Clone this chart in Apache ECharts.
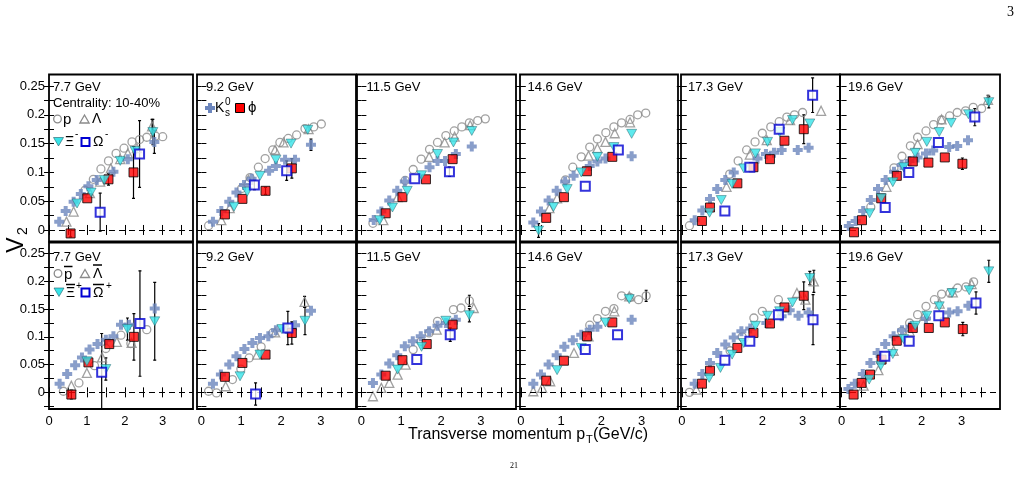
<!DOCTYPE html>
<html><head><meta charset="utf-8">
<script src="https://cdn.jsdelivr.net/npm/echarts@6/dist/echarts.min.js"></script>
<style>html,body{margin:0;padding:0;background:#fff}#c{width:1022px;height:478px}</style>
</head><body><div id="c"></div><script>
// ---------- tick labels / categories ----------
const energies = ['7.7 GeV','9.2 GeV','11.5 GeV','14.6 GeV','17.3 GeV','19.6 GeV'];
const xTicks = [0,1,2,3];
const xMinorTicks = [0,0.5,1,1.5,2,2.5,3,3.5];
const yTicks = [0,0.05,0.1,0.15,0.2,0.25];
const yMinorTicks = [-0.025,0,0.025,0.05,0.075,0.1,0.125,0.15,0.175,0.2,0.225,0.25];

// ---------- data: [pT, v2, (stat error)] ----------
// top row: particles
const t77_p   = [[0.95,0.069],[1.17,0.088],[1.37,0.106],[1.57,0.12],[1.77,0.133],[1.98,0.142],[2.19,0.153],[2.39,0.157],[2.58,0.161],[2.81,0.163],[3.0,0.162]];
const t77_L   = [[0.46,0.0145],[0.65,0.032],[1.08,0.064],[1.35,0.084],[1.63,0.107],[1.88,0.123],[2.08,0.133],[2.32,0.142],[2.72,0.18,0.012]];
const t77_Xi  = [[0.74,0.046],[1.11,0.065],[1.46,0.087],[1.88,0.12],[2.27,0.137],[2.74,0.17,0.022]];
const t77_Om  = [[1.35,0.031,0.033],[2.39,0.132,0.058]];
const t77_K   = [[0.27,0.0145],[0.44,0.033],[0.65,0.049],[0.84,0.0625],[1.04,0.076],[1.26,0.087],[1.70,0.101],[2.08,0.123],[2.78,0.153,0.02]];
const t77_phi = [[0.57,-0.006,0.006],[1.01,0.055],[1.57,0.088,0.01],[2.23,0.10,0.045]];

const t92_p   = [[0.18,0.0075],[1.01,0.072],[1.22,0.091],[1.43,0.109],[1.6,0.124],[1.79,0.139],[1.97,0.152],[2.18,0.159],[2.39,0.165],[2.6,0.176],[2.82,0.179],[3.01,0.184]];
const t92_L   = [[0.5,0.017],[0.71,0.038],[1.18,0.087],[1.85,0.139],[2.06,0.152],[2.69,0.175]];
const t92_Xi  = [[0.82,0.0405],[1.15,0.0665],[1.47,0.094],[1.87,0.122],[2.25,0.15],[2.67,0.174]];
const t92_Om  = [[1.33,0.078,0.008],[2.14,0.103,0.017]];
const t92_K   = [[0.29,0.0145],[0.5,0.033],[0.7,0.049],[0.88,0.065],[1.07,0.078],[1.26,0.089],[1.7,0.103],[1.87,0.111],[2.1,0.122],[2.35,0.122],[2.75,0.148,0.01]];
const t92_phi = [[0.59,0.027],[1.03,0.054],[1.61,0.068,0.006],[2.27,0.107,0.017]];

const t115_p   = [[0.29,0.0116],[1.1,0.086],[1.3,0.105],[1.5,0.123],[1.71,0.14],[1.91,0.152],[2.12,0.164],[2.33,0.172],[2.52,0.179],[2.71,0.186],[2.92,0.19],[3.11,0.193]];
const t115_L   = [[0.55,0.017],[0.91,0.057],[1.7,0.127],[2.09,0.152],[2.34,0.162],[2.73,0.182]];
const t115_Xi  = [[0.46,0.017],[0.78,0.039],[1.15,0.068],[1.51,0.095],[1.91,0.132],[2.31,0.152],[2.77,0.172]];
const t115_Om  = [[1.34,0.089],[2.21,0.101,0.008]];
const t115_K   = [[0.31,0.0175],[0.5,0.032],[0.7,0.051],[0.9,0.068],[1.09,0.084],[1.71,0.109],[1.91,0.12],[2.1,0.12],[2.37,0.132],[2.77,0.145]];
const t115_phi = [[0.61,0.029],[1.03,0.057],[1.62,0.088],[2.29,0.123]];

const t146_p   = [[1.11,0.087],[1.29,0.109],[1.5,0.127],[1.71,0.144],[1.9,0.158],[2.11,0.169],[2.31,0.179],[2.5,0.186],[2.71,0.192],[2.9,0.2],[3.1,0.203]];
const t146_L   = [[0.71,0.038],[0.9,0.055],[1.68,0.129],[1.9,0.142],[2.1,0.153],[2.33,0.168],[2.71,0.187]];
const t146_Xi  = [[0.44,-0.001,0.012],[0.81,0.04],[1.15,0.071],[1.5,0.1],[1.9,0.127],[2.31,0.144],[2.75,0.167]];
const t146_Om  = [[1.6,0.076],[2.42,0.139]];
const t146_K   = [[0.31,0.013],[0.5,0.032],[0.69,0.051],[0.89,0.068],[1.1,0.084],[1.31,0.094],[1.71,0.111],[1.9,0.119],[2.1,0.124],[2.75,0.128]];
const t146_phi = [[0.63,0.021],[1.07,0.057],[1.64,0.102],[2.27,0.127]];

const t173_p   = [[0.19,0.0075],[1.19,0.097],[1.4,0.12],[1.61,0.139],[1.82,0.153],[2.0,0.168],[2.21,0.179],[2.42,0.188],[2.61,0.196],[2.8,0.2],[3.0,0.204]];
const t173_L   = [[1.11,0.075],[1.69,0.131],[2.11,0.156],[2.69,0.191],[3.46,0.207]];
const t173_Xi  = [[0.69,0.03],[0.98,0.052],[1.25,0.08],[1.54,0.107],[1.83,0.133],[2.13,0.153],[2.43,0.17],[2.75,0.191],[3.18,0.185]];
const t173_Om  = [[1.07,0.033],[1.69,0.109],[2.42,0.175],[3.25,0.234,0.03]];
const t173_K   = [[0.32,0.017],[0.51,0.034],[0.7,0.054],[0.88,0.071],[1.08,0.087],[1.29,0.1],[1.88,0.124],[2.09,0.132],[2.29,0.134],[2.48,0.139],[2.88,0.139],[3.15,0.143]];
const t173_phi = [[0.5,0.0156],[0.7,0.039],[1.38,0.081],[1.78,0.109],[2.19,0.123],[2.55,0.155],[3.03,0.175,0.025]];

const t196_p   = [[0.73,0.04],[1.31,0.108],[1.51,0.128],[1.72,0.146],[1.9,0.161],[2.11,0.172],[2.3,0.183],[2.5,0.191],[2.7,0.198],[2.89,0.204],[3.1,0.207],[3.29,0.213],[3.5,0.211]];
const t196_L   = [[1.12,0.075],[1.9,0.149],[2.5,0.192],[3.66,0.226,0.008]];
const t196_Xi  = [[0.7,0.029],[0.99,0.055],[1.28,0.083],[1.55,0.109],[1.84,0.134],[2.13,0.153],[2.44,0.17],[2.74,0.186],[3.17,0.201],[3.68,0.222,0.01]];
const t196_Om  = [[1.09,0.039],[1.68,0.1],[2.42,0.152],[3.33,0.196,0.015]];
const t196_K   = [[0.18,0.007],[0.35,0.0156],[0.54,0.033],[0.73,0.052],[0.91,0.071],[1.1,0.087],[1.31,0.101],[1.5,0.113],[1.7,0.12],[1.9,0.126],[2.11,0.133],[2.29,0.138],[2.69,0.144],[2.89,0.146],[3.16,0.156]];
const t196_phi = [[0.31,-0.004],[0.51,0.017],[0.99,0.055],[1.38,0.094],[1.78,0.119],[2.17,0.117],[2.58,0.126],[3.02,0.115,0.01]];

// bottom row: anti-particles
const b77_p   = [[0.38,0.002],[0.79,0.017],[1.2,0.048],[1.5,0.079],[1.9,0.103],[2.16,0.088],[2.58,0.113]];
const b77_L   = [[0.59,0.012],[1.0,0.035],[1.4,0.063],[1.79,0.091],[2.18,0.089]];
const b77_Xi  = [[1.0,0.056],[1.5,0.042,0.02],[2.07,0.114,0.02],[2.79,0.128,0.07]];
const b77_Om  = [[1.39,0.036,0.07],[2.4,0.124,0.095]];
const b77_K   = [[0.28,0.0156],[0.48,0.033],[0.69,0.049],[0.87,0.063],[1.07,0.077],[1.28,0.087],[1.5,0.095],[1.7,0.101],[1.9,0.122],[2.11,0.122],[2.79,0.151]];
const b77_phi = [[0.59,-0.004,0.008],[1.04,0.054],[1.59,0.087],[2.24,0.1,0.042]];

const b92_p   = [[0.18,0.002],[0.38,-0.001],[0.78,0.023],[0.99,0.042],[1.2,0.062],[1.5,0.082],[1.79,0.107]];
const b92_L   = [[0.61,0.011],[1.4,0.068],[1.85,0.108],[2.59,0.163,0.01]];
const b92_Xi  = [[0.97,0.029],[1.47,0.068],[2.02,0.114],[2.6,0.129,0.025]];
const b92_Om  = [[1.36,-0.003,0.02],[2.17,0.116,0.03]];
const b92_K   = [[0.29,0.0156],[0.49,0.032],[0.7,0.05],[0.88,0.065],[1.08,0.078],[1.28,0.089],[1.47,0.098],[1.68,0.101],[1.87,0.112],[2.14,0.114],[2.35,0.121],[2.75,0.147]];
const b92_phi = [[0.59,0.028],[1.03,0.053],[1.61,0.068],[2.27,0.107,0.02]];

const b115_p   = [[1.3,0.077],[1.5,0.092],[1.7,0.107],[1.91,0.128],[2.31,0.149],[2.5,0.152],[2.71,0.165,0.01]];
const b115_L   = [[0.29,-0.007],[0.5,0.008],[0.7,0.017],[0.91,0.032],[1.11,0.05],[1.89,0.113],[2.82,0.152]];
const b115_Xi  = [[0.91,0.041],[1.51,0.082],[2.12,0.129],[2.71,0.139,0.012]];
const b115_Om  = [[1.39,0.059],[2.23,0.104,0.012]];
const b115_K   = [[0.29,0.017],[0.5,0.032],[0.7,0.052],[0.9,0.067],[1.09,0.083],[1.29,0.092],[1.49,0.101],[1.7,0.11],[1.91,0.12],[2.12,0.125],[2.37,0.131]];
const b115_phi = [[0.61,0.03],[1.03,0.058],[1.64,0.087],[2.29,0.122]];

const b146_p   = [[1.71,0.121],[1.9,0.133],[2.1,0.146],[2.31,0.151],[2.5,0.174],[2.71,0.171],[2.92,0.167],[3.11,0.174,0.01]];
const b146_L   = [[0.31,0.002],[0.53,0.008],[0.73,0.02],[1.32,0.071],[1.68,0.101],[2.32,0.146],[2.69,0.173]];
const b146_Xi  = [[0.9,0.04],[1.5,0.08],[2.1,0.126],[2.69,0.168]];
const b146_Om  = [[1.6,0.077],[2.4,0.104]];
const b146_K   = [[0.31,0.0156],[0.5,0.032],[0.69,0.05],[0.89,0.067],[1.08,0.082],[1.29,0.094],[1.5,0.104],[1.71,0.113],[1.9,0.118],[2.75,0.131]];
const b146_phi = [[0.63,0.021],[1.07,0.057],[1.64,0.101],[2.27,0.126]];

const b173_p   = [[0.19,0],[1.2,0.075],[1.5,0.1],[1.79,0.134],[2.0,0.146],[2.4,0.167]];
const b173_L   = [[0.36,0.005],[2.86,0.179],[3.07,0.167],[3.28,0.2,0.02]];
const b173_Xi  = [[0.68,0.026],[0.96,0.044],[1.25,0.068],[1.54,0.089],[1.83,0.12],[2.13,0.138],[2.43,0.146],[2.75,0.162],[3.18,0.206,0.012]];
const b173_Om  = [[1.07,0.058],[1.69,0.092],[2.4,0.14],[3.26,0.131,0.045]];
const b173_K   = [[0.32,0.0156],[0.51,0.033],[0.7,0.053],[0.88,0.071],[1.08,0.086],[1.29,0.099],[1.48,0.11],[1.7,0.115],[2.1,0.125],[2.48,0.137],[2.68,0.148],[2.9,0.138],[3.15,0.144]];
const b173_phi = [[0.5,0.0156],[0.7,0.039],[1.38,0.08],[1.78,0.107],[2.19,0.124],[2.55,0.153],[3.03,0.174,0.025]];

const b196_p   = [[1.5,0.11],[1.7,0.125],[1.9,0.14],[2.11,0.155],[2.32,0.167],[2.5,0.177],[2.71,0.179],[2.9,0.188],[3.11,0.19],[3.3,0.199]];
const b196_L   = [[0.55,0.012],[0.92,0.04],[1.3,0.075],[1.7,0.11],[2.07,0.138],[2.45,0.16],[2.78,0.18],[3.25,0.195]];
const b196_Xi  = [[0.69,0.023],[0.98,0.048],[1.28,0.069],[1.55,0.096],[1.84,0.12],[2.13,0.138],[2.44,0.155],[2.76,0.179],[3.19,0.184],[3.68,0.218,0.02]];
const b196_Om  = [[1.08,0.065],[1.69,0.092],[2.43,0.138],[3.36,0.161,0.02]];
const b196_K   = [[0.17,0.006],[0.33,0.0156],[0.53,0.033],[0.72,0.053],[0.9,0.071],[1.09,0.087],[1.3,0.101],[1.51,0.112],[1.72,0.118],[2.11,0.133],[2.69,0.144],[2.9,0.146],[3.17,0.156]];
const b196_phi = [[0.3,-0.004],[0.5,0.017],[0.71,0.032],[1.0,0.059],[1.38,0.093],[1.78,0.116],[2.18,0.116],[2.58,0.126],[3.03,0.114,0.012]];

// ---------- assemble ----------
const topPanels = [
  [t77_p,t77_L,t77_K,t77_phi,t77_Xi,t77_Om],
  [t92_p,t92_L,t92_K,t92_phi,t92_Xi,t92_Om],
  [t115_p,t115_L,t115_K,t115_phi,t115_Xi,t115_Om],
  [t146_p,t146_L,t146_K,t146_phi,t146_Xi,t146_Om],
  [t173_p,t173_L,t173_K,t173_phi,t173_Xi,t173_Om],
  [t196_p,t196_L,t196_K,t196_phi,t196_Xi,t196_Om]];
const botPanels = [
  [b77_p,b77_L,b77_K,b77_phi,b77_Xi,b77_Om],
  [b92_p,b92_L,b92_K,b92_phi,b92_Xi,b92_Om],
  [b115_p,b115_L,b115_K,b115_phi,b115_Xi,b115_Om],
  [b146_p,b146_L,b146_K,b146_phi,b146_Xi,b146_Om],
  [b173_p,b173_L,b173_K,b173_phi,b173_Xi,b173_Om],
  [b196_p,b196_L,b196_K,b196_phi,b196_Xi,b196_Om]];

const FONT = '"Liberation Sans", Arial, Helvetica, sans-serif';
const GRAY = '#8a8a8a', CYAN = '#36e4e8', KCOL = '#6c86bd', BLUE = '#0000d2', RED = '#ff0000';
const symCross = 'path://M3,0H7V3H10V7H7V10H3V7H0V3H3Z';
const symDown = 'path://M0,0H10L5,8.7Z';
const styles = [
  {symbol:'circle', size:8, item:{color:'transparent', borderColor:GRAY, borderWidth:1.3}, z:2},
  {symbol:'triangle', size:9, item:{color:'transparent', borderColor:GRAY, borderWidth:1.3}, z:3},
  {symbol:symCross, size:10, item:{color:KCOL}, z:4},
  {symbol:'rect', size:9, item:{color:RED, borderColor:'#000', borderWidth:1}, z:5},
  {symbol:symDown, size:[10,9], item:{color:CYAN, borderColor:'#24606a', borderWidth:0.6}, z:6},
  {symbol:'rect', size:9, item:{color:'#fff', borderColor:BLUE, borderWidth:2}, z:7}
];

const colLeft = [49,197,357,520,681,840];
const colW    = [144,159,159,158,159,160];
const xMin = [0,-0.11,-0.11,-0.02,-0.02,-0.04];
const xMax = [3.8,3.88,3.88,3.9,3.93,3.96];
const rows = [
  {top:74.5, h:167, min:-0.02, max:0.27, panels:topPanels},
  {top:242.5, h:166.5, min:-0.03, max:0.27, panels:botPanels}
];

const grids=[], xAxes=[], yAxes=[], series=[];
const tickStyle = {color:'#000', width:1};
function errRender(params, api){
  const x=api.value(0), y=api.value(1), e=api.value(2);
  const a=api.coord([x,y-e]), b=api.coord([x,y+e]);
  const ls={stroke:'#000', lineWidth:1.2};
  return {type:'group', children:[
    {type:'line', shape:{x1:a[0],y1:a[1],x2:b[0],y2:b[1]}, style:ls},
    {type:'line', shape:{x1:a[0]-1.5,y1:a[1],x2:a[0]+1.5,y2:a[1]}, style:ls},
    {type:'line', shape:{x1:b[0]-1.5,y1:b[1],x2:b[0]+1.5,y2:b[1]}, style:ls}
  ]};
}

rows.forEach((row, r) => {
  for (let c=0;c<6;c++){
    const gi = r*6+c;
    grids.push({left:colLeft[c], top:row.top, width:colW[c], height:row.h, show:true,
      borderColor:'#000', borderWidth:1.8, backgroundColor:'transparent', outerBoundsMode:'none'});
    const xt = xMinorTicks.filter(v=>v>=xMin[c]&&v<=xMax[c]);
    const yt = yMinorTicks.filter(v=>v>=row.min&&v<=row.max);
    ['bottom','top'].forEach(pos=>{
      xAxes.push({type:'value', gridIndex:gi, position:pos, min:xMin[c], max:xMax[c],
        axisLine:{show:false}, splitLine:{show:false}, minorTick:{show:false},
        axisTick:{show:true, inside:true, length:5, customValues:xt, lineStyle:tickStyle},
        axisLabel:{show: pos==='bottom' && r===1, customValues:xTicks, fontFamily:FONT, fontSize:13, color:'#000', margin:6}});
    });
    ['left','right'].forEach(pos=>{
      yAxes.push({type:'value', gridIndex:gi, position:pos, min:row.min, max:row.max,
        axisLine:{show:false}, splitLine:{show:false}, minorTick:{show:false},
        axisTick:{show:true, inside:true, length:5, customValues:yt, lineStyle:tickStyle},
        axisLabel:{show: pos==='left' && c===0, customValues:yTicks, fontFamily:FONT, fontSize:13, color:'#000', margin:4,
          formatter: v => String(+(+v).toFixed(2))}});
    });
    const arrs = row.panels[c];
    const errData = [];
    arrs.forEach(a=>a.forEach(d=>{ if(d.length>2) errData.push([d[0],d[1],d[2]]); }));
    series.push({type:'custom', xAxisIndex:2*gi, yAxisIndex:2*gi, data:errData, renderItem:errRender,
      z:1, clip:true, silent:true,
      markLine:{silent:true, symbol:['none','none'], label:{show:false}, animation:false,
        lineStyle:{color:'#000', type:[6,4], width:1}, data:[{yAxis:0}]}});
    arrs.forEach((a,k)=>{
      const s = styles[k];
      series.push({type:'scatter', xAxisIndex:2*gi, yAxisIndex:2*gi, data:a.map(d=>[d[0],d[1]]),
        symbol:s.symbol, symbolSize:s.size, itemStyle:s.item, z:s.z, silent:true});
    });
  }
});

// ---------- text & legend graphics ----------
function T(text,x,y,size,extra){
  extra = extra||{};
  return {type:'text', x, y, rotation:extra.rotation||0, silent:true, z:100,
    style:{text, fill:'#000', font:(extra.weight||'')+' '+size+'px '+(extra.family||FONT),
      textAlign:extra.align||'left', textVerticalAlign:'middle', align:extra.align||'left', verticalAlign:'middle'}};
}
const G = [];
const lblX = [53,206,366.5,527.5,688,848];
energies.forEach((e,i)=>{ G.push(T(e,lblX[i],87,13)); G.push(T(e,lblX[i],257,13)); });
G.push(T('Centrality: 10-40%',53,103,13));
function circ(x,y){return {type:'circle',z:100,shape:{cx:x,cy:y,r:3.8},style:{fill:'none',stroke:GRAY,lineWidth:1.3}};}
function triU(x,y){return {type:'polygon',z:100,shape:{points:[[x-4.6,y+4],[x+4.6,y+4],[x,y-4]]},style:{fill:'none',stroke:GRAY,lineWidth:1.3}};}
function triD(x,y){return {type:'polygon',z:100,shape:{points:[[x-5,y-4],[x+5,y-4],[x,y+4.5]]},style:{fill:CYAN,stroke:'#24606a',lineWidth:0.6}};}
function sqO(x,y){return {type:'rect',z:100,shape:{x:x-4,y:y-4,width:8,height:8},style:{fill:'#fff',stroke:BLUE,lineWidth:2}};}
function sqR(x,y){return {type:'rect',z:100,shape:{x:x-4.5,y:y-4.5,width:9,height:9},style:{fill:RED,stroke:'#000',lineWidth:1}};}
function cross(x,y){return {type:'polygon',z:100,shape:{points:[[x-2,y-5],[x+2,y-5],[x+2,y-2],[x+5,y-2],[x+5,y+2],[x+2,y+2],[x+2,y+5],[x-2,y+5],[x-2,y+2],[x-5,y+2],[x-5,y-2],[x-2,y-2]]},style:{fill:KCOL}};}
function bar(x1,x2,y){return {type:'line',z:100,shape:{x1,y1:y,x2,y2:y},style:{stroke:'#000',lineWidth:1.5}};}
// top-left legend
G.push(circ(57.5,119), T('p',63,120,15), triU(84.5,119), T('Λ',92,119,14));
G.push(triD(58.5,141.5), T('Ξ',65,142,14), T('-',75,134,10), sqO(85.5,142), T('Ω',93,142,14), T('-',105,134,10));
// panel 2 legend
G.push(cross(210,108), T('K',215,108,14), T('0',225,102,10), T('s',225,113,10), sqR(240,108), T('ϕ',248,108,15));
// bottom-left legend
G.push(circ(58,273.5), T('p',64,274.5,15), bar(64,72.5,266.5), triU(85,273.5), T('Λ',93,274,14), bar(93,102,265));
G.push(triD(59,292), T('Ξ',66,293,14), bar(66,75,284.5), T('+',76,286,10), sqO(85.5,292.5), T('Ω',93,293,14), bar(93,104,284.5), T('+',106,286,10));
// axis titles
G.push(T('V',17,245,23,{rotation:Math.PI/2, align:'center'}));
G.push(T('2',23,231,14,{rotation:Math.PI/2, align:'center'}));
G.push(T('Transverse momentum p',408,435,16), T('T',586,440,11), T('(GeV/c)',593,435,16));
// page marks
G.push(T('3',1007,12,14,{family:'"Liberation Serif", "DejaVu Serif", serif'}));
G.push(T('21',510,466,8,{family:'"Liberation Serif", serif'}));

const chart = echarts.init(document.getElementById('c'), null, {renderer:'canvas'});
chart.setOption({
  animation:false, backgroundColor:'#fff',
  grid:grids, xAxis:xAxes, yAxis:yAxes, series, graphic:G
});
</script></body></html>
